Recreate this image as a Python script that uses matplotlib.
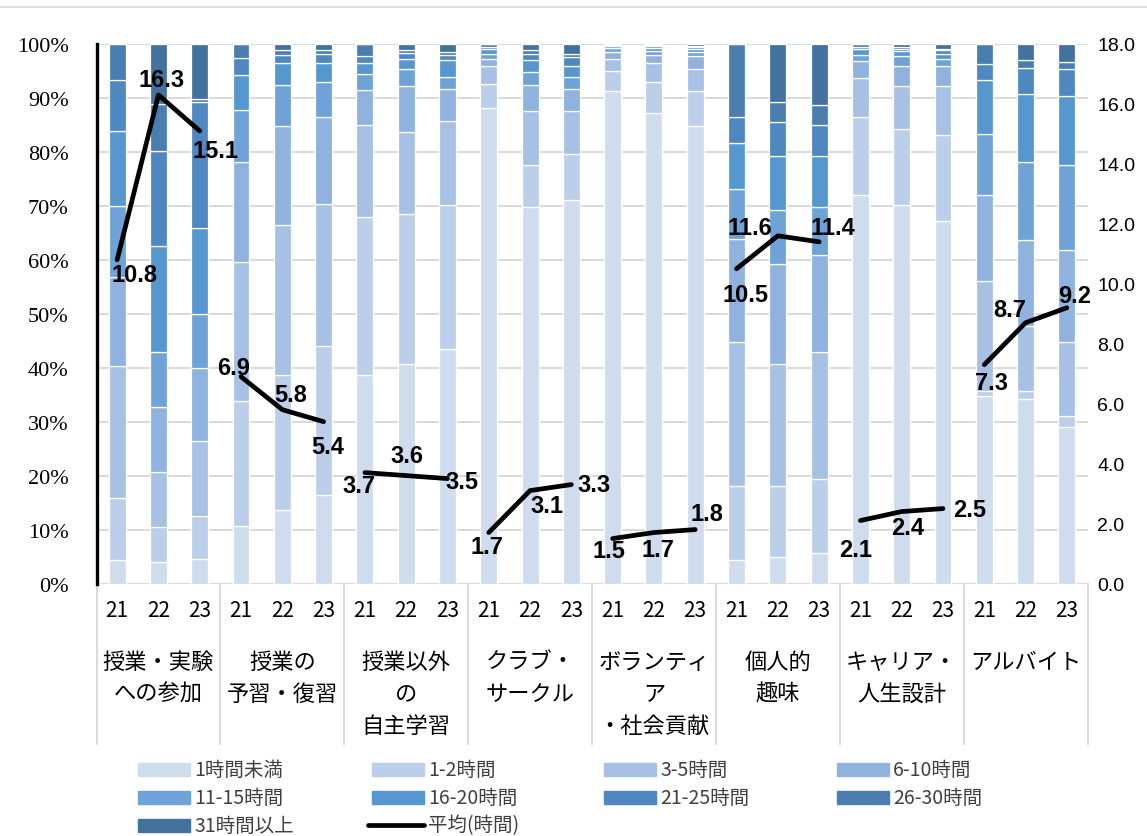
import numpy as np
import matplotlib
matplotlib.use('Agg')
import matplotlib.pyplot as plt
from matplotlib.patches import Rectangle
from matplotlib.lines import Line2D
import matplotlib.transforms as mtransforms

plt.rcParams['font.family'] = ['Noto Sans CJK JP', 'DejaVu Sans']

# ---- data ----
categories = ['授業・実験\nへの参加', '授業の\n予習・復習', '授業以外\nの\n自主学習',
              'クラブ・\nサークル', 'ボランティ\nア\n・社会貢献', '個人的\n趣味',
              'キャリア・\n人生設計', 'アルバイト']
years = ['21', '22', '23']
bands = ['1時間未満', '1-2時間', '3-5時間', '6-10時間', '11-15時間',
         '16-20時間', '21-25時間', '26-30時間', '31時間以上']

# share of students (%) per band, 3 years per category
under1 = [4.4, 4.0, 4.5, 10.7, 13.7, 16.4, 38.7, 40.7, 43.5, 88.2, 69.7, 71.0,
          91.2, 87.3, 84.8, 4.4, 5.0, 5.7, 72.1, 70.1, 67.1, 34.8, 34.2, 29.1]
h1_2 = [11.4, 6.4, 8.0, 23.2, 25.0, 27.6, 29.2, 27.8, 26.6, 4.3, 7.8, 8.7,
        3.8, 5.7, 6.4, 13.7, 13.1, 13.7, 14.3, 14.2, 16.1, 0.8, 1.5, 1.9]
h3_5 = [24.6, 10.2, 14.0, 25.7, 27.7, 26.4, 17.0, 15.1, 15.7, 3.5, 10.1, 7.9,
        2.2, 3.5, 4.2, 26.7, 22.6, 23.6, 7.3, 7.9, 9.0, 20.4, 12.1, 13.7]
h6_10 = [16.4, 12.1, 13.4, 18.5, 18.4, 16.0, 6.5, 8.7, 5.9, 1.2, 4.8, 4.1,
         1.3, 1.5, 2.4, 19.1, 18.5, 17.8, 3.2, 3.8, 3.7, 16.0, 15.9, 17.1]
h11_15 = [13.2, 10.3, 10.1, 9.6, 7.6, 6.6, 3.0, 3.1, 2.1, 1.0, 2.5, 2.1,
          0.7, 0.7, 0.7, 9.2, 10.0, 8.9, 1.1, 1.8, 1.3, 11.4, 14.4, 15.7]
h16_20 = [13.8, 19.6, 15.9, 6.5, 4.0, 3.4, 2.1, 1.8, 3.2, 0.8, 2.1, 2.2,
          0.4, 0.6, 0.6, 8.5, 10.1, 9.6, 1.0, 0.9, 1.0, 9.9, 12.6, 12.9]
h21_25 = [9.5, 17.6, 23.4, 3.2, 1.6, 1.8, 1.3, 1.1, 1.0, 0.5, 1.2, 1.6,
          0.2, 0.3, 0.4, 4.8, 6.3, 5.7, 0.5, 0.4, 0.6, 3.0, 4.8, 5.0]
h26_30 = [6.7, 8.7, 0.5, 2.6, 0.9, 0.6, 2.2, 0.6, 0.6, 0.5, 0.6, 0.6,
          0.2, 0.2, 0.2, 13.6, 3.7, 3.7, 0.5, 0.3, 0.3, 3.7, 1.5, 1.3]
h31_up = [0, 11.1, 10.2, 0, 1.1, 1.2, 0, 1.1, 1.4, 0, 1.2, 1.8,
          0, 0.2, 0.3, 0, 10.7, 11.3, 0, 0.6, 0.9, 0, 3.0, 3.3]

# average hours per week (right axis)
avg_hours = [10.8, 16.3, 15.1, 6.9, 5.8, 5.4, 3.7, 3.6, 3.5, 1.7, 3.1, 3.3,
             1.5, 1.7, 1.8, 10.5, 11.6, 11.4, 2.1, 2.4, 2.5, 7.3, 8.7, 9.2]

# ---- styling ----
colors = ['#cfdcee', '#bccfea', '#a7c1e4', '#8fb3de', '#6fa3d8',
          '#5697cf', '#4f88c1', '#4a7eb1', '#44729f']
# label offsets in pixels (right, up)
label_off = [(17, -15), (3, 15), (16, -20), (-7, 9), (8, 15), (4, -25),
             (-6, -13), (1, 20), (14, -3), (-2, -14), (17, -15), (23, 0),
             (-4, -12), (4, -17), (12, 16), (9, -26), (-28, 8), (14, 14),
             (-5, -29), (6, -16), (27, -1), (7, -18), (-16, 13), (8, 12)]

W, H = 1147, 837
fig = plt.figure(figsize=(W / 100, H / 100), dpi=100)
left, right, top, bot = 96.5, 1087.5, 45, 584.5
ax = fig.add_axes([left / W, 1 - bot / H, (right - left) / W, (bot - top) / H])

x = np.arange(len(avg_hours))
series = [under1, h1_2, h3_5, h6_10, h11_15, h16_20, h21_25, h26_30, h31_up]
bottom = np.zeros(len(x))
for vals, col, lab in zip(series, colors, bands):
    vals = np.array(vals)
    ax.bar(x, vals, 0.41, bottom=bottom, color=col, edgecolor='white',
           linewidth=0.9, label=lab, zorder=2)
    bottom += vals

ax.set_xlim(-0.5, len(x) - 0.5)
ax.set_ylim(0, 100)
ax.set_yticks(range(0, 101, 10))
ax.set_yticklabels([f'{v}%' for v in range(0, 101, 10)],
                   family=['Liberation Serif', 'DejaVu Serif'], fontsize=16)
ax.yaxis.grid(True, color='#d9d9d9', linewidth=1.4)
ax.set_axisbelow(True)
ax.set_xticks(x)
ax.set_xticklabels(years * len(categories), fontsize=15)
ax.tick_params(axis='y', length=0, pad=20)
ax.tick_params(axis='x', length=0, pad=11)
for s in ['top', 'right', 'bottom']:
    ax.spines[s].set_visible(False)
ax.spines['left'].set_linewidth(2.4)
ax.spines['left'].set_color('black')

# category labels and table lines
trans = mtransforms.blended_transform_factory(ax.transData, ax.transAxes)
for g, cat in enumerate(categories):
    ax.text(3 * g + 1, -0.123, cat, transform=trans, ha='center', va='top',
            fontsize=16, linespacing=1.5)
for b in np.arange(-0.5, len(x), 3):
    ax.plot([b, b], [0, (bot - 745) / (bot - top)], transform=trans,
            color='#d9d9d9', linewidth=1.4, clip_on=False, zorder=1)

# average line on right axis
ax2 = ax.twinx()
ax2.set_ylim(0, 18)
ax2.set_yticks(np.arange(0, 18.1, 2))
ax2.set_yticklabels([f'{v:.1f}' for v in np.arange(0, 18.1, 2)],
                    family=['Liberation Sans', 'DejaVu Sans'], fontsize=14)
ax2.tick_params(axis='y', length=0, pad=7)
for s in ax2.spines.values():
    s.set_visible(False)
for g in range(len(categories)):
    xs = x[3 * g:3 * g + 3]
    ys = avg_hours[3 * g:3 * g + 3]
    ax2.plot(xs, ys, color='black', linewidth=3.4, solid_capstyle='round', zorder=5)
for xi, v, (dx, dy) in zip(x, avg_hours, label_off):
    ax2.annotate(f'{v:.1f}', (xi, v), xytext=(dx, dy), textcoords='offset pixels',
                 ha='center', va='center', fontsize=17, fontweight='bold',
                 family=['Liberation Sans', 'DejaVu Sans'], zorder=6)

# legend drawn in figure pixels
leg_cols = [138, 372, 604, 837]
leg_rows = [770, 798, 826]
entries = bands + ['平均(時間)']
for i, lab in enumerate(entries):
    r, c = divmod(i, 4)
    px, py = leg_cols[c], leg_rows[r]
    if i < len(bands):
        fig.patches.append(Rectangle((px / W, 1 - (py + 6.5) / H), 52 / W, 13 / H,
                                     transform=fig.transFigure, color=colors[i]))
    else:
        fig.lines.append(Line2D([(px - 4) / W, (px + 52) / W], [1 - py / H] * 2,
                                transform=fig.transFigure, color='black',
                                linewidth=3.4, solid_capstyle='round'))
    fig.text((px + 56) / W, 1 - py / H, lab, ha='left', va='center', fontsize=14,
             color='#404040')

# outer border line at top
fig.lines.append(Line2D([0, 1], [1 - 8 / H] * 2, transform=fig.transFigure,
                        color='#d9d9d9', linewidth=1.2))

fig.savefig('out.png', dpi=100)
